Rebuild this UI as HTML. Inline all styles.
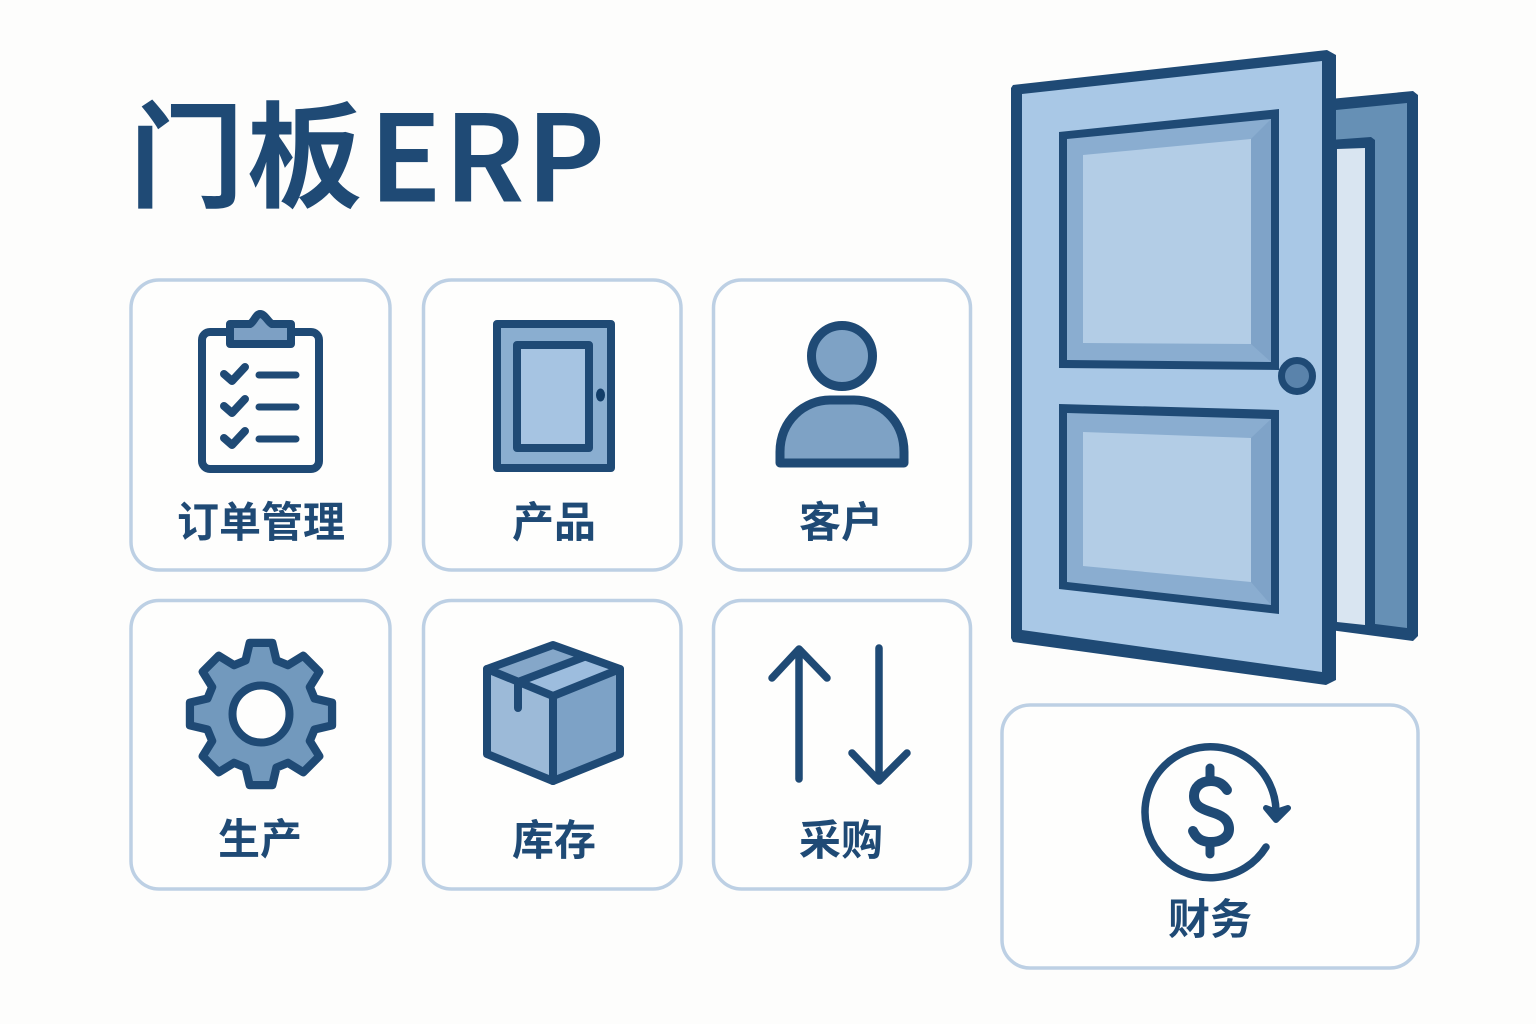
<!DOCTYPE html>
<html lang="zh">
<head>
<meta charset="utf-8">
<title>门板ERP</title>
<style>
html,body{margin:0;padding:0;background:#fdfdfc;width:1536px;height:1024px;overflow:hidden}
svg{display:block}
text{font-family:"Liberation Sans","Noto Sans CJK SC",sans-serif;fill:#1f4a75}
.t{font-family:"Noto Sans CJK SC","Liberation Sans",sans-serif;font-weight:700}
.e{stroke:#fdfdfc;stroke-width:2}
.l{font-family:"Noto Sans CJK SC","Liberation Sans",sans-serif;font-weight:700;font-size:42px;text-anchor:middle}
.c{fill:#fefefd;stroke:#bdd0e4;stroke-width:3.5}
.s{stroke:#1f4a75;stroke-width:8;stroke-linejoin:round;stroke-linecap:round}
</style>
</head>
<body>
<svg width="1536" height="1024" viewBox="0 0 1536 1024" xmlns="http://www.w3.org/2000/svg">
<rect width="1536" height="1024" fill="#fdfdfc"/>

<!-- Title -->
<text class="t" x="129" y="198" font-size="115">门</text>
<text class="t" x="247" y="198" font-size="115">板</text>
<text class="t e" x="368" y="202.500" font-size="122">E</text>
<text class="t e" x="443" y="202.500" font-size="122">R</text>
<text class="t e" x="525" y="202.500" font-size="122">P</text>

<!-- Cards -->
<rect class="c" x="131" y="280" width="259" height="290" rx="28"/>
<rect class="c" x="423.500" y="280" width="257.500" height="290" rx="28"/>
<rect class="c" x="713.500" y="280" width="257" height="290" rx="28"/>
<rect class="c" x="131" y="600.500" width="259" height="288.500" rx="28"/>
<rect class="c" x="423.500" y="600.500" width="257.500" height="288.500" rx="28"/>
<rect class="c" x="713.500" y="600.500" width="257" height="288.500" rx="28"/>
<rect class="c" x="1002" y="705" width="416" height="263" rx="28"/>

<!-- Clipboard -->
<rect class="s" x="202" y="332" width="117" height="137" rx="8" fill="#fefefd"/>
<path class="s" d="M230 324H250C254 322 256 314 260 314C265 314 268 322 272 324H291V344H230Z" fill="#7da0c4"/>
<path class="s" d="M224 374L232 381L245 367M224 406L232 413L245 399M224 438L232 445L245 431" fill="none"/>
<path class="s" d="M259 375H296M259 407H296M259 439H296" fill="none" style="stroke-width:7"/>

<!-- Small door -->
<rect class="s" x="497" y="324" width="114" height="144" fill="#8aaed0"/>
<rect class="s" x="517" y="345" width="72" height="103" fill="#a6c4e2"/>
<ellipse cx="600.500" cy="395" rx="4.500" ry="6.500" fill="#123d68"/>

<!-- Person -->
<circle cx="842" cy="356" r="30.500" fill="#7ea2c5" stroke="#1f4a75" stroke-width="9"/>
<path d="M780 463V452C780 420 805 400 830 400H854C880 400 904 420 904 452V463Z" fill="#7ea2c5" stroke="#1f4a75" stroke-width="9" stroke-linejoin="round"/>

<!-- Gear -->
<g transform="translate(261 714) scale(1.03)">
<polygon points="-15,-52 -11,-69 11,-69 15,-52 26.200,-47.400 41,-56.600 56.600,-41 47.400,-26.200 52,-15 69,-11 69,11 52,15 47.400,26.200 56.600,41 41,56.600 26.200,47.400 15,52 11,69 -11,69 -15,52 -26.200,47.400 -41,56.600 -56.600,41 -47.400,26.200 -52,15 -69,11 -69,-11 -52,-15 -47.400,-26.200 -56.600,-41 -41,-56.600 -26.200,-47.400" fill="#7299bd" stroke="#1f4a75" stroke-width="8" stroke-linejoin="round"/>
</g>
<circle cx="261" cy="714" r="28.500" fill="#fefefd" stroke="#1f4a75" stroke-width="8"/>

<!-- Box -->
<polygon points="487,669 553,696 553,781 487,754" fill="#9cbad8"/>
<polygon points="620,669 553,696 553,781 620,754" fill="#7da2c6"/>
<polygon points="553,645 620,669 553,696 487,669" fill="#9dbdde"/>
<polygon points="518,682 487,669 553,645 584,657" fill="#85a7c9"/>
<g class="s" fill="none">
<polygon points="553,645 620,669 620,754 553,781 487,754 487,669"/>
<path d="M487 669L553 696L620 669M553 696V781M518 682L584 657M518 682V708"/>
</g>

<!-- Arrows -->
<g class="s" fill="none" style="stroke-width:7.500">
<path d="M799 779V650M772 678L799 649L827 678"/>
<path d="M879 648V780M852 753L879 781L907 753"/>
</g>

<!-- Finance -->
<g class="s" fill="none" style="stroke-width:7.500">
<path d="M1266 847A65.500 65.500 0 1 1 1276 812"/>
<path d="M1227 790C1222 782 1215 781 1211 781C1200 781 1194 788 1194 796C1194 806 1202 809 1211 812C1221 815 1229 819 1229 829C1229 837 1221 842 1211 842C1204 842 1197 840 1193 831" style="stroke-width:10"/>
<path d="M1210 768V778M1210 844V854" style="stroke-width:9"/>
</g>
<polygon class="s" points="1266,808 1276,812 1288,808 1276,820" fill="#1f4a75" style="stroke-width:6"/>

<!-- Door back leaf -->
<polygon points="1330,99 1413,91 1418,95 1418,636 1413,641 1330,630" fill="#1f4a75"/>
<polygon points="1336,110 1407,103 1407,628 1336,619" fill="#6690b5"/>
<polygon points="1330,140 1371,137 1375,140 1375,635 1330,628" fill="#1f4a75"/>
<polygon points="1337,149 1365,148 1365,625 1337,622" fill="#d9e5f1"/>

<!-- Door front -->
<polygon points="1013,85 1327,50 1336,55 1336,680 1326,685 1013,642 1011,638 1011,88" fill="#1f4a75"/>
<polygon points="1022,94 1322,61 1322,672 1022,630" fill="#a9c8e6"/>

<!-- Upper panel -->
<polygon points="1059,132 1279,109 1279,370 1059,368" fill="#1f4a75"/>
<polygon points="1067,139 1271,119 1271,362 1067,360" fill="#8aadd0"/>
<polygon points="1251,139 1271,119 1271,362 1251,344" fill="#7fa3c8"/>
<polygon points="1083,155 1251,139 1251,344 1083,343" fill="#b3cde6"/>

<!-- Lower panel -->
<polygon points="1059,404 1279,410 1279,614 1059,589" fill="#1f4a75"/>
<polygon points="1067,413 1271,419 1271,605 1067,582" fill="#8aadd0"/>
<polygon points="1251,438 1271,419 1271,605 1251,582" fill="#7fa3c8"/>
<polygon points="1083,432 1251,438 1251,582 1083,566" fill="#b3cde6"/>

<!-- Knob -->
<circle cx="1297" cy="376" r="15.500" fill="#5a83ab" stroke="#1f4a75" stroke-width="7"/>

<!-- Labels -->
<text class="l" x="261" y="537">订单管理</text>
<text class="l" x="554" y="537">产品</text>
<text class="l" x="841" y="537">客户</text>
<text class="l" x="260" y="854">生产</text>
<text class="l" x="554" y="855">库存</text>
<text class="l" x="841" y="855">采购</text>
<text class="l" x="1210" y="934">财务</text>
</svg>
</body>
</html>
